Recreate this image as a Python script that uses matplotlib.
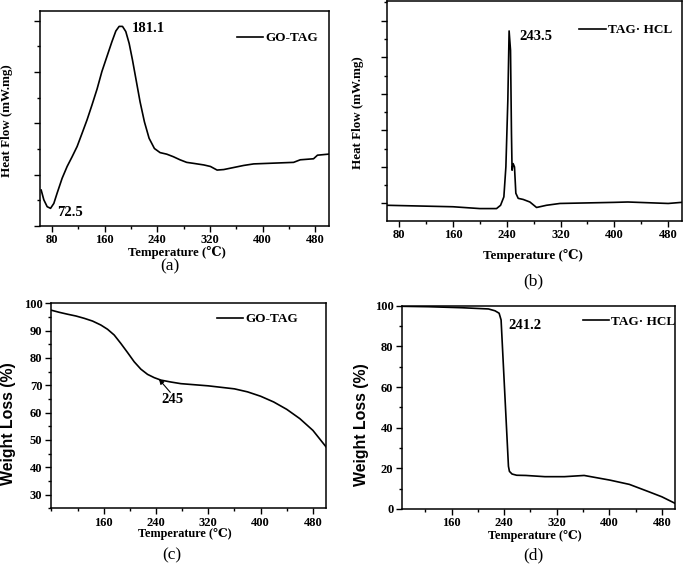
import numpy as np
import matplotlib
matplotlib.use('Agg')
import matplotlib.pyplot as plt
from matplotlib.ticker import MultipleLocator, NullFormatter

# ---------- data ----------
# (a) DSC of GO-TAG, arbitrary heat-flow units
t_a = [63.8, 67.8, 72.9, 78, 83, 88, 95.6, 103.2, 110.8, 118.4, 126, 133.5, 141, 148.7,
       156, 163.6, 171.2, 177.2, 182.2, 187.3, 192.3, 197.4, 202.4, 207.5, 214, 220.6,
       227.7, 235.8, 244.4, 254.5, 264.6, 274.7, 284.8, 295.6, 310.8, 320.9, 331, 341.1,
       356.3, 371.4, 386.6, 406.8, 427, 447.2, 457.3, 477.5, 483.5, 500]
hf_a = [0.70, 0.51, 0.376, 0.344, 0.44, 0.64, 0.93, 1.16, 1.35, 1.55, 1.81, 2.07, 2.36,
        2.67, 3.01, 3.30, 3.59, 3.80, 3.89, 3.89, 3.79, 3.56, 3.24, 2.88, 2.42, 2.03,
        1.71, 1.51, 1.43, 1.40, 1.35, 1.29, 1.24, 1.22, 1.19, 1.16, 1.09, 1.10,
        1.14, 1.18, 1.21, 1.22, 1.23, 1.24, 1.29, 1.31, 1.38, 1.40]

# (b) DSC of TAG·HCL
t_b = [62, 160, 200, 224.8, 230.8, 235.7, 238.7, 241.6, 243.5, 245.6, 247, 247.9,
       249.5, 251.5, 253.5, 257, 264.4, 274.4, 284.3, 299, 319, 400, 420, 480, 500]
hf_b = [-0.05, -0.09, -0.14, -0.14, -0.05, 0.18, 1.0, 2.82, 4.72, 4.19, 1.92, 0.91,
        1.09, 1.0, 0.28, 0.14, 0.11, 0.04, -0.11, -0.05, 0.0, 0.03, 0.04, 0.0, 0.03]

# (c) TGA of GO-TAG
t_c = [79.4, 92.1, 104.8, 117.6, 130.3, 143, 155.7, 165.9, 176.1, 186.3, 196.5, 206.7,
       216.9, 227.1, 237.3, 247.5, 262.8, 278.1, 320, 360, 380, 400, 420, 440, 460,
       480, 500]
w_c = [97.5, 96.7, 96.0, 95.35, 94.5, 93.5, 92.05, 90.5, 88.4, 85.3, 82.0, 78.6,
       75.9, 74.0, 72.8, 71.9, 71.2, 70.6, 69.8, 68.7, 67.6, 66.0, 63.9, 61.2, 57.8,
       53.5, 47.5]

# (d) TGA of TAG·HCL
t_d = [84, 124.7, 175.5, 216, 226, 232.3, 235.3, 246.5, 248, 252, 259, 273, 302,
       331.7, 361.7, 401, 430.6, 460, 480, 500]
w_d = [99.7, 99.5, 99.0, 98.4, 97.5, 96.3, 93.0, 21.0, 18.5, 17.2, 16.6, 16.5, 15.9,
       15.9, 16.5, 14.2, 12.1, 8.5, 6.0, 2.8]

serif = ['Liberation Serif', 'DejaVu Serif']
sans = ['Liberation Sans', 'DejaVu Sans']
xlab = 'Temperature (\u2103)'

fig = plt.figure(figsize=(6.85, 5.73), dpi=100)
ax_a = fig.add_axes([0.0584, 0.6056, 0.4219, 0.3752])
ax_b = fig.add_axes([0.5645, 0.6143, 0.4311, 0.3840])
ax_c = fig.add_axes([0.0740, 0.1129, 0.4019, 0.3578])
ax_d = fig.add_axes([0.5864, 0.1117, 0.3990, 0.3548])


def style(ax):
    for s in ax.spines.values():
        s.set_linewidth(1.1)
    ax.tick_params(which='both', direction='out', top=False, right=False, width=1.0, pad=2)
    ax.tick_params(which='major', length=4)
    ax.tick_params(which='minor', length=2.5)
    for lab in ax.get_xticklabels() + ax.get_yticklabels():
        lab.set_fontfamily(serif)
        lab.set_fontweight('bold')
        lab.set_fontsize(9)


def labels(ax, xy_x, xy_y, yl_x, yl_y, ylabel, yfam, ysize, xsize):
    ax.set_xlabel(xlab, fontfamily=serif, fontweight='bold', fontsize=xsize)
    ax.set_ylabel(ylabel, fontfamily=yfam, fontweight='bold', fontsize=ysize)
    ax.xaxis.set_label_coords(xy_x, xy_y)
    ax.xaxis.label.set_va('center')
    ax.yaxis.set_label_coords(yl_x, yl_y)
    ax.yaxis.label.set_va('center')


def add_legend(ax, label, x, y):
    ax.legend([label], loc='center left', bbox_to_anchor=(x, y), frameon=False,
              borderpad=0, borderaxespad=0, handlelength=2.0, handletextpad=0.15,
              prop=dict(family=serif, weight='bold', size=9.5))


# ----- (a) -----
ax_a.plot(t_a, hf_a, color='black', lw=1.2)
ax_a.set_xlim(62, 501)
ax_a.set_ylim(0, 4.19)
ax_a.xaxis.set_major_locator(MultipleLocator(80))
ax_a.xaxis.set_minor_locator(MultipleLocator(40))
ax_a.yaxis.set_major_locator(MultipleLocator(1))
ax_a.yaxis.set_minor_locator(MultipleLocator(0.5))
ax_a.yaxis.set_major_formatter(NullFormatter())
style(ax_a)
labels(ax_a, 0.474, -0.124, -0.114, 0.488, 'Heat Flow (mW.mg)', serif, 9.4, 9.2)
add_legend(ax_a, 'GO-TAG', 0.682, 0.874)
ax_a.text(227, 3.84, '181.1', ha='center', va='center', family=serif, weight='bold', fontsize=10.5)
ax_a.text(107, 0.27, '72.5', ha='center', va='center', family=serif, weight='bold', fontsize=10.5)

# ----- (b) -----
ax_b.plot(t_b, hf_b, color='black', lw=1.2)
ax_b.set_xlim(61.5, 500.5)
ax_b.set_ylim(-0.48, 5.54)
ax_b.xaxis.set_major_locator(MultipleLocator(80))
ax_b.xaxis.set_minor_locator(MultipleLocator(40))
ax_b.yaxis.set_major_locator(MultipleLocator(1))
ax_b.yaxis.set_minor_locator(MultipleLocator(0.5))
ax_b.yaxis.set_major_formatter(NullFormatter())
style(ax_b)
labels(ax_b, 0.494, -0.159, -0.097, 0.493, 'Heat Flow (mW.mg)', serif, 9.4, 9.4)
add_legend(ax_b, 'TAG\u00b7 HCL', 0.652, 0.868)
ax_b.text(283, 4.57, '243.5', ha='center', va='center', family=serif, weight='bold', fontsize=10.5)

# ----- (c) -----
ax_c.plot(t_c, w_c, color='black', lw=1.2)
ax_c.set_xlim(79, 500)
ax_c.set_ylim(25, 100)
ax_c.set_xticks([160, 240, 320, 400, 480])
ax_c.xaxis.set_minor_locator(MultipleLocator(40))
ax_c.yaxis.set_major_locator(MultipleLocator(10))
ax_c.yaxis.set_minor_locator(MultipleLocator(5))
style(ax_c)
labels(ax_c, 0.488, -0.125, -0.154, 0.411, 'Weight Loss (%)', sans, 11.4, 8.8)
add_legend(ax_c, 'GO-TAG', 0.604, 0.923)
ax_c.text(265, 64.8, '245', ha='center', va='center', family=serif, weight='bold', fontsize=10.5)
ax_c.annotate('', xy=(244.6, 72.2), xytext=(262, 67.4),
              arrowprops=dict(arrowstyle='-|>', color='black', lw=0.8,
                              mutation_scale=7, shrinkA=0, shrinkB=0))

# ----- (d) -----
ax_d.plot(t_d, w_d, color='black', lw=1.2)
ax_d.set_xlim(84, 500)
ax_d.set_ylim(0, 100)
ax_d.set_xticks([160, 240, 320, 400, 480])
ax_d.xaxis.set_minor_locator(MultipleLocator(40))
ax_d.yaxis.set_major_locator(MultipleLocator(20))
ax_d.yaxis.set_minor_locator(MultipleLocator(10))
style(ax_d)
labels(ax_d, 0.488, -0.132, -0.146, 0.413, 'Weight Loss (%)', sans, 11.4, 8.8)
add_legend(ax_d, 'TAG\u00b7 HCL', 0.663, 0.92)
ax_d.text(272, 90.2, '241.2', ha='center', va='center', family=serif, weight='bold', fontsize=10.5)

# panel letters
for lbl, x, y in [('(a)', 170, 266), ('(b)', 533, 281), ('(c)', 172, 555), ('(d)', 533, 555)]:
    fig.text(x / 685, 1 - y / 573, lbl, ha='center', va='center', family=serif, fontsize=12.5)

fig.savefig('out.png', dpi=100)
